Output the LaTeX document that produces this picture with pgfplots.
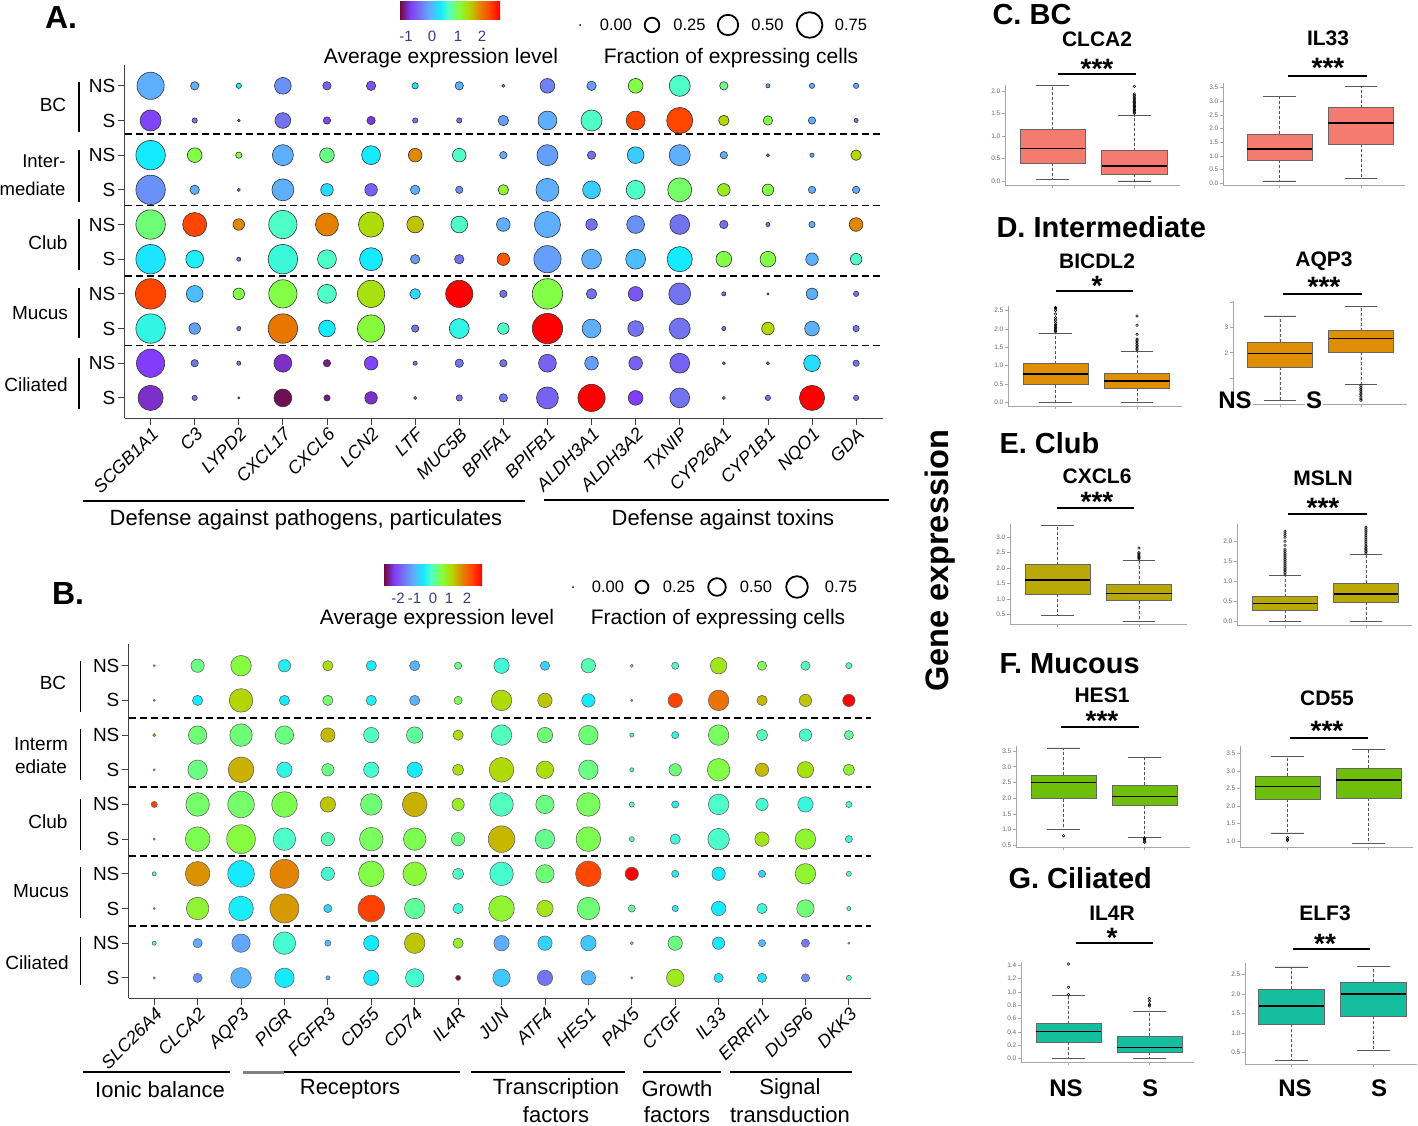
\documentclass[border=0pt]{standalone}
\usepackage{fontspec}
\setmainfont{Liberation Sans}
\usepackage{pgfplots}
\usepackage{pgfplotstable}
\usepgfplotslibrary{statistics}
\pgfplotsset{compat=1.18}
\newcommand\fs[1]{\fontsize{#1}{#1}\selectfont}
\definecolor{cbC}{RGB}{245,122,112}
\definecolor{cbD}{RGB}{222,143,5}
\definecolor{cbE}{RGB}{185,168,8}
\definecolor{cbF}{RGB}{112,190,12}
\definecolor{cbG}{RGB}{22,190,160}
\definecolor{tickc}{RGB}{60,60,130}
\tikzset{dashl/.style={black, line width=1.8pt, dash pattern=on 7pt off 4pt}}
\pgfdeclarehorizontalshading{dotshade}{100bp}{rgb(0bp)=(0.431,0.039,0.235); rgb(25bp)=(0.431,0.039,0.235); rgb(30.2bp)=(0.51,0.235,0.98); rgb(34.75bp)=(0.451,0.451,0.941); rgb(39.95bp)=(0.373,0.686,1); rgb(45.15bp)=(0.078,0.922,1); rgb(49.05bp)=(0.314,1,0.784); rgb(54.2bp)=(0.51,1,0.275); rgb(59.4bp)=(0.706,0.843,0); rgb(64.6bp)=(0.882,0.529,0); rgb(69.8bp)=(1,0.275,0); rgb(75bp)=(1,0,0); rgb(100bp)=(1,0,0)}
\pgfplotsset{colormap={dotmap}{rgb255(0pt)=(110,10,60); rgb255(8pt)=(130,60,250); rgb255(15pt)=(115,115,240); rgb255(23pt)=(95,175,255); rgb255(31pt)=(20,235,255); rgb255(37pt)=(80,255,200); rgb255(45pt)=(130,255,70); rgb255(53pt)=(180,215,0); rgb255(61pt)=(225,135,0); rgb255(69pt)=(255,70,0); rgb255(77pt)=(255,0,0)}}
\pgfplotsset{
 boxplot/draw/lower whisker/.code={%
  \draw[gray!70!black, densely dashed, line width=0.5pt] (boxplot box cs:\pgfplotsboxplotvalue{lower quartile},0.5) -- (boxplot box cs:\pgfplotsboxplotvalue{lower whisker},0.5);
  \draw[gray!70!black, solid, line width=0.8pt] (boxplot whisker cs:\pgfplotsboxplotvalue{lower whisker},0) -- (boxplot whisker cs:\pgfplotsboxplotvalue{lower whisker},1);},
 boxplot/draw/upper whisker/.code={%
  \draw[gray!70!black, densely dashed, line width=0.5pt] (boxplot box cs:\pgfplotsboxplotvalue{upper quartile},0.5) -- (boxplot box cs:\pgfplotsboxplotvalue{upper whisker},0.5);
  \draw[gray!70!black, solid, line width=0.8pt] (boxplot whisker cs:\pgfplotsboxplotvalue{upper whisker},0) -- (boxplot whisker cs:\pgfplotsboxplotvalue{upper whisker},1);},
 bp/.style={scale only axis, anchor=north west, axis x line*=bottom, axis y line*=left,
  axis line style={gray!70, line width=0.7pt}, tick style={gray!70, line width=0.6pt},
  tick align=outside, major tick length=3pt, xtick={1,2}, xticklabels={,},
  yticklabel style={font=\fs{6.5}, text=black!60, inner sep=1.5pt},
  /pgf/number format/assume math mode=true, /pgf/number format/fixed,
  /pgf/number format/fixed zerofill, /pgf/number format/precision=1,
  clip=false, boxplot/draw direction=y, boxplot/box extend=0.8, boxplot/whisker extend=0.4},
 bx/.style={solid, draw=gray!80!black, fill=#1, line width=0.6pt, mark=o, mark size=1.3pt,
  mark options={black, fill=none, line width=0.5pt},
  boxplot/every median/.style={black, line width=1.4pt}},
 dotax/.style={scale only axis, anchor=south west, axis x line*=bottom, axis y line*=left,
  axis line style={black!75, line width=1pt}, tick align=outside, major tick length=7pt,
  tick style={black!75, line width=0.8pt}, xtick={1,...,17}, ytick={1,...,10},
  yticklabels={S,NS,S,NS,S,NS,S,NS,S,NS}, yticklabel style={font=\fs{19}, inner sep=2pt},
  xticklabel style={font=\itshape\fs{18}, rotate=45, anchor=north east, inner sep=1pt},
  colormap name=dotmap, clip=false},
}
\newcommand\bb[7]{\addplot[bx=#7, boxplot prepared={draw position=#1, lower whisker=#2, lower quartile=#3, median=#4, upper quartile=#5, upper whisker=#6}] coordinates {};}
\newcommand\bbo[8]{\addplot[bx=#7, boxplot prepared={draw position=#1, lower whisker=#2, lower quartile=#3, median=#4, upper quartile=#5, upper whisker=#6}] table[row sep=\\, y index=0] {data\\ #8};}

\pgfplotstableread{
x y f v
1 10 0.77 -0.1
2 10 0.073 -0.1
3 10 0.029 0.3
4 10 0.29 -0.3
5 10 0.073 -0.6
6 10 0.092 -0.7
7 10 0.041 0.3
8 10 0.073 -0.1
9 10 0.01 -0.5
10 10 0.224 -0.4
11 10 0.092 -0.2
12 10 0.224 1.0
13 10 0.46 0.6
14 10 0.073 0.8
15 10 0.018 -0.1
16 10 0.029 -0.1
17 10 0.029 -0.1
1 9 0.46 -0.8
2 9 0.029 -0.5
3 9 0.007 -0.5
4 9 0.257 -0.5
5 9 0.056 -0.8
6 9 0.073 -0.9
7 9 0.029 -0.5
8 9 0.029 -0.5
9 9 0.114 -0.2
10 9 0.37 -0.1
11 9 0.46 0.6
12 9 0.37 2.2
13 9 0.71 2.2
14 9 0.114 1.4
15 9 0.092 1.0
16 9 0.056 -0.1
17 9 0.018 -0.5
1 8 0.9 0.3
2 8 0.224 1.0
3 8 0.041 1.0
4 8 0.46 -0.1
5 8 0.224 0.8
6 8 0.37 0.3
7 8 0.193 1.8
8 8 0.193 0.6
9 8 0.056 -0.1
10 8 0.46 -0.2
11 8 0.073 -0.5
12 8 0.29 0.1
13 8 0.46 -0.1
14 8 0.056 -0.1
15 8 0.01 -0.5
16 8 0.018 -0.1
17 8 0.114 1.4
1 7 0.9 -0.3
2 7 0.092 -0.1
3 7 0.01 -0.5
4 7 0.5 -0.1
5 7 0.164 0.2
6 7 0.164 -0.6
7 7 0.092 -0.1
8 7 0.056 -0.3
9 7 0.114 1.1
10 7 0.55 -0.1
11 7 0.33 0.1
12 7 0.37 0.6
13 7 0.6 0.9
14 7 0.164 1.2
15 7 0.138 1.0
16 7 0.056 -0.1
17 7 0.056 -0.1
1 6 0.9 0.85
2 6 0.6 2.2
3 6 0.138 1.8
4 6 0.83 0.6
5 6 0.55 1.85
6 6 0.66 1.35
7 6 0.29 1.5
8 6 0.29 0.6
9 6 0.193 -0.1
10 6 0.71 -0.1
11 6 0.138 -0.5
12 6 0.33 -0.3
13 6 0.41 -0.5
14 6 0.073 -0.5
15 6 0.018 -0.5
16 6 0.041 -0.1
17 6 0.193 1.8
1 5 0.9 0.25
2 5 0.33 0.35
3 5 0.018 -0.5
4 5 0.9 0.5
5 5 0.37 0.6
6 5 0.55 0.3
7 5 0.092 -0.2
8 5 0.092 -0.5
9 5 0.164 2.1
10 5 0.77 -0.2
11 5 0.41 -0.1
12 5 0.41 0.0
13 5 0.66 0.3
14 5 0.257 1.0
15 5 0.257 1.0
16 5 0.164 -0.1
17 5 0.138 0.6
1 4 0.96 2.2
2 4 0.29 0.0
3 4 0.138 1.0
4 4 0.83 1.0
5 4 0.37 0.6
6 4 0.77 1.3
7 4 0.114 0.2
8 4 0.77 2.6
9 4 0.056 -0.5
10 4 0.96 1.0
11 4 0.114 -0.5
12 4 0.224 -0.7
13 4 0.5 -0.5
14 4 0.018 -0.5
15 4 0.005 -0.5
16 4 0.138 -0.1
17 4 0.029 -0.5
1 3 0.9 0.45
2 3 0.138 -0.2
3 3 0.018 -0.5
4 3 0.9 1.9
5 3 0.29 0.3
6 3 0.77 1.05
7 3 0.056 -0.5
8 3 0.41 0.45
9 3 0.138 0.6
10 3 0.96 2.6
11 3 0.37 -0.1
12 3 0.257 -0.5
13 3 0.46 -0.5
14 3 0.018 -0.5
15 3 0.164 1.4
16 3 0.224 -0.1
17 3 0.041 -0.5
1 2 0.83 -0.85
2 2 0.056 -0.5
3 2 0.018 -0.5
4 2 0.33 -0.95
5 2 0.056 -1.1
6 2 0.193 -0.8
7 2 0.018 -0.5
8 2 0.073 -0.5
9 2 0.056 -0.5
10 2 0.33 -0.6
11 2 0.193 -0.2
12 2 0.193 -0.6
13 2 0.41 -0.6
14 2 0.01 -0.5
15 2 0.01 -0.5
16 2 0.29 0.2
17 2 0.041 -0.5
1 1 0.66 -0.95
2 1 0.029 -0.5
3 1 0.005 -0.5
4 1 0.33 -1.2
5 1 0.041 -1.1
6 1 0.164 -0.95
7 1 0.01 -0.5
8 1 0.041 -0.5
9 1 0.073 -0.5
10 1 0.5 -0.6
11 1 0.77 2.6
12 1 0.224 -0.85
13 1 0.41 -0.5
14 1 0.01 -0.5
15 1 0.029 -0.5
16 1 0.66 2.6
17 1 0.029 -0.5
}\dataA

\pgfplotstableread{
x y f v
1 10 0.005 0.0
2 10 0.21 0.3
3 10 0.5 0.6
4 10 0.18 -0.3
5 10 0.125 1.0
6 10 0.125 -0.35
7 10 0.125 -0.9
8 10 0.061 0.3
9 10 0.28 -0.1
10 10 0.1 -0.6
11 10 0.245 0.1
12 10 0.011 0.0
13 10 0.061 0.0
14 10 0.32 0.9
15 10 0.1 0.5
16 10 0.1 0.05
17 10 0.045 0.1
1 9 0.005 0.0
2 9 0.125 -0.4
3 9 0.66 1.1
4 9 0.125 -0.4
5 9 0.125 0.4
6 9 0.125 -0.3
7 9 0.125 -0.9
8 9 0.08 0.5
9 9 0.5 1.05
10 9 0.245 1.2
11 9 0.21 -0.4
12 9 0.005 0.0
13 9 0.245 2.2
14 9 0.5 1.8
15 9 0.125 1.3
16 9 0.18 1.2
17 9 0.18 2.7
1 8 0.011 1.2
2 8 0.4 0.35
3 8 0.6 0.35
4 8 0.4 0.3
5 8 0.245 1.3
6 8 0.28 0.05
7 8 0.32 0.2
8 8 0.125 1.0
9 8 0.5 0.05
10 8 0.28 0.35
11 8 0.45 0.35
12 8 0.02 0.0
13 8 0.061 -0.2
14 8 0.5 0.45
15 8 0.15 0.1
16 8 0.18 0.0
17 8 0.1 0.2
1 7 0.005 0.0
2 7 0.45 0.3
3 7 0.78 1.35
4 7 0.28 -0.2
5 7 0.18 0.3
6 7 0.28 -0.05
7 7 0.28 -0.4
8 7 0.15 0.95
9 7 0.72 1.05
10 7 0.36 1.0
11 7 0.45 0.3
12 7 0.02 0.0
13 7 0.18 0.35
14 7 0.6 0.55
15 7 0.21 1.3
16 7 0.32 0.95
17 7 0.15 0.7
1 6 0.045 2.2
2 6 0.66 0.4
3 6 0.84 0.4
4 6 0.78 0.5
5 6 0.28 1.2
6 6 0.55 0.35
7 6 0.72 1.35
8 6 0.18 0.8
9 6 0.66 0.05
10 6 0.4 0.3
11 6 0.66 0.45
12 6 0.031 0.0
13 6 0.061 -0.3
14 6 0.5 0.0
15 6 0.18 -0.05
16 6 0.28 -0.15
17 6 0.045 0.0
1 5 0.005 0.0
2 5 0.72 0.5
3 5 0.98 0.6
4 5 0.6 0.0
5 5 0.21 0.1
6 5 0.66 0.45
7 5 0.6 0.5
8 5 0.21 0.3
9 5 0.84 1.3
10 5 0.45 0.25
11 5 0.72 0.5
12 5 0.031 0.0
13 5 0.125 -0.1
14 5 0.55 0.0
15 5 0.245 0.9
16 5 0.5 0.7
17 5 0.061 -0.1
1 4 0.02 0.0
2 4 0.72 1.55
3 4 0.84 -0.4
4 4 1.0 1.65
5 4 0.21 -0.05
6 4 0.78 0.55
7 4 0.66 0.65
8 4 0.15 0.0
9 4 0.66 -0.05
10 4 0.4 0.35
11 4 0.78 2.15
12 4 0.21 2.7
13 4 0.061 -0.3
14 4 0.21 -0.4
15 4 0.061 -0.6
16 4 0.5 0.7
17 4 0.031 0.0
1 3 0.005 0.0
2 3 0.6 0.7
3 3 0.72 -0.35
4 3 1.0 1.5
5 3 0.08 -0.6
6 3 0.84 2.2
7 3 0.5 0.2
8 3 0.125 -0.1
9 3 0.78 0.7
10 3 0.32 0.9
11 3 0.6 0.35
12 3 0.061 0.2
13 3 0.045 -0.3
14 3 0.245 -0.4
15 3 0.125 -0.1
16 3 0.36 0.35
17 3 0.02 0.0
1 2 0.02 0.0
2 2 0.1 -0.95
3 2 0.4 -1.0
4 2 0.6 -0.05
5 2 0.045 -0.8
6 2 0.28 -0.4
7 2 0.5 1.2
8 2 0.125 0.75
9 2 0.28 -0.95
10 2 0.245 -0.6
11 2 0.28 -0.7
12 2 0.011 0.0
13 2 0.245 0.3
14 2 0.18 -0.4
15 2 0.061 -0.8
16 2 0.08 -1.4
17 2 0.005 0.0
1 1 0.005 0.0
2 1 0.1 -1.2
3 1 0.5 -0.9
4 1 0.45 -0.4
5 1 0.02 -0.9
6 1 0.28 -0.4
7 1 0.4 -0.05
8 1 0.031 -2.47
9 1 0.36 -0.7
10 1 0.28 -1.45
11 1 0.245 -0.85
12 1 0.005 0.0
13 1 0.36 0.85
14 1 0.1 -0.4
15 1 0.1 -0.45
16 1 0.08 -1.2
17 1 0.031 0.0
}\dataB

\begin{document}
\begin{tikzpicture}
\path[use as bounding box] (0,0) rectangle (1418pt,-1125pt);

% ================= Panel A =================
\begin{axis}[dotax, at={(124.5pt,-418pt)}, width=758.5pt, height=353pt,
  xmin=0.408, xmax=17.61, ymin=0.42, ymax=10.6,
  point meta min=-1.25, point meta max=2.6,
  xticklabels={SCGB1A1,C3,LYPD2,CXCL17,CXCL6,LCN2,LTF,MUC5B,BPIFA1,BPIFB1,ALDH3A1,ALDH3A2,TXNIP,CYP26A1,CYP1B1,NQO1,GDA}]
\addplot[scatter, only marks, mark=*, scatter src=explicit,
  visualization depends on={15.5*sqrt(\thisrow{f}) \as \msz},
  scatter/use mapped color={draw=black!80, fill=mapped color, line width=0.6pt},
  scatter/@pre marker code/.append style={/tikz/mark size=\msz}]
  table[x=x, y=y, meta=v] {\dataA};
\draw[dashl] (axis cs:0.408,8.62) -- (axis cs:17.61,8.62);
\draw[dashl] (axis cs:0.408,6.55) -- (axis cs:17.61,6.55);
\draw[dashl] (axis cs:0.408,4.52) -- (axis cs:17.61,4.52);
\draw[dashl] (axis cs:0.408,2.51) -- (axis cs:17.61,2.51);
\end{axis}

\node[font=\bfseries\fs{32}] at (61pt,-17pt) {A.};
\shade[shading=dotshade] (400pt,-1pt) rectangle (500pt,-19pt);
\begin{scope}[every node/.style={font=\fs{15}, text=tickc}]
\node at (406pt,-36pt) {-1};
\node at (432pt,-36pt) {0};
\node at (458pt,-36pt) {1};
\node at (482pt,-36pt) {2};
\end{scope}
\node[font=\fs{21}] at (441pt,-58pt) {Average expression level};
\node[font=\fs{21}] at (731pt,-58pt) {Fraction of expressing cells};
\fill (580pt,-25pt) circle (1pt);
\draw[line width=1.8pt] (652pt,-25pt) circle (7.3pt);
\draw[line width=1.8pt] (728pt,-25pt) circle (10.2pt);
\draw[line width=1.8pt] (809.6pt,-25pt) circle (12.8pt);
\node[font=\fs{16.5}] at (616pt,-25pt) {0.00};
\node[font=\fs{16.5}] at (689.5pt,-25pt) {0.25};
\node[font=\fs{16.5}] at (767.5pt,-25pt) {0.50};
\node[font=\fs{16.5}] at (851pt,-25pt) {0.75};
% group labels A
\begin{scope}[every node/.style={font=\fs{19}}]
\node at (53pt,-105pt) {BC};
\node[anchor=east, font=\fs{18.5}] at (69pt,-161pt) {Inter-};
\node[anchor=east, font=\fs{18.5}] at (69pt,-189pt) {mediate};
\node at (48pt,-243pt) {Club};
\node at (40pt,-313pt) {Mucus};
\node at (36pt,-385pt) {Ciliated};
\end{scope}
\foreach \a/\b in {82/132,150/202,219/270,288/338,358/409}{
  \draw[line width=1.6pt] (79pt,-\a pt) -- (79pt,-\b pt);}
\draw[line width=1.8pt] (83pt,-501pt) -- (525pt,-501pt);
\draw[line width=1.8pt] (544pt,-500pt) -- (889pt,-500pt);
\node[font=\fs{22}] at (306pt,-520pt) {Defense against pathogens, particulates};
\node[font=\fs{22}] at (723pt,-520pt) {Defense against toxins};

% ================= Panel B =================
\begin{axis}[dotax, at={(128.6pt,-998.3pt)}, width=742.4pt, height=354.3pt,
  xmin=0.41, xmax=17.51, ymin=0.41, ymax=10.626,
  point meta min=-2.47, point meta max=2.7,
  xticklabels={SLC26A4,CLCA2,AQP3,PIGR,FGFR3,CD55,CD74,IL4R,JUN,ATF4,HES1,PAX5,CTGF,IL33,ERRFI1,DUSP6,DKK3}]
\addplot[scatter, only marks, mark=*, scatter src=explicit,
  visualization depends on={14.5*sqrt(\thisrow{f}) \as \msz},
  scatter/use mapped color={draw=black!60, fill=mapped color, line width=0.6pt},
  scatter/@pre marker code/.append style={/tikz/mark size=\msz}]
  table[x=x, y=y, meta=v] {\dataB};
\draw[dashl] (axis cs:0.41,8.5) -- (axis cs:17.51,8.5);
\draw[dashl] (axis cs:0.41,6.51) -- (axis cs:17.51,6.51);
\draw[dashl] (axis cs:0.41,4.51) -- (axis cs:17.51,4.51);
\draw[dashl] (axis cs:0.41,2.5) -- (axis cs:17.51,2.5);
\end{axis}

\node[font=\bfseries\fs{32}] at (68pt,-593pt) {B.};
\shade[shading=dotshade] (384pt,-564.6pt) rectangle (482pt,-585.8pt);
\begin{scope}[every node/.style={font=\fs{15}, text=tickc}]
\node at (398pt,-598pt) {-2};
\node at (414.6pt,-598pt) {-1};
\node at (433pt,-598pt) {0};
\node at (449pt,-598pt) {1};
\node at (467pt,-598pt) {2};
\end{scope}
\node[font=\fs{21}] at (437pt,-619pt) {Average expression level};
\node[font=\fs{21}] at (718pt,-619pt) {Fraction of expressing cells};
\fill (573pt,-587pt) circle (1pt);
\draw[line width=1.8pt] (642pt,-587pt) circle (6.4pt);
\draw[line width=1.8pt] (717pt,-587pt) circle (8.8pt);
\draw[line width=1.8pt] (797pt,-587pt) circle (10.8pt);
\node[font=\fs{16.5}] at (608pt,-587pt) {0.00};
\node[font=\fs{16.5}] at (679pt,-587pt) {0.25};
\node[font=\fs{16.5}] at (756pt,-587pt) {0.50};
\node[font=\fs{16.5}] at (841pt,-587pt) {0.75};
\begin{scope}[every node/.style={font=\fs{19}}]
\node at (53pt,-683pt) {BC};
\node at (41pt,-744pt) {Interm};
\node at (41pt,-767pt) {ediate};
\node at (48pt,-822pt) {Club};
\node at (41pt,-891pt) {Mucus};
\node at (37pt,-963pt) {Ciliated};
\end{scope}
\foreach \a/\b in {661/712,729/780,799/850,867/918,937/985}{
  \draw[line width=1.6pt] (80.5pt,-\a pt) -- (80.5pt,-\b pt);}
\draw[line width=1.8pt] (83pt,-1072pt) -- (230pt,-1072pt);
\draw[line width=1.8pt] (243pt,-1072pt) -- (459.5pt,-1072pt);
\draw[line width=3pt, gray] (243pt,-1072pt) -- (284pt,-1072pt);
\draw[line width=1.8pt] (471pt,-1072pt) -- (625pt,-1072pt);
\draw[line width=1.8pt] (643pt,-1072pt) -- (721pt,-1072pt);
\draw[line width=1.8pt] (730pt,-1072pt) -- (852pt,-1072pt);
\begin{scope}[every node/.style={font=\fs{22}}]
\node at (160pt,-1090pt) {Ionic balance};
\node at (350pt,-1089pt) {Receptors};
\node at (556pt,-1089pt) {Transcription};
\node at (556pt,-1115pt) {factors};
\node at (677pt,-1089pt) {Growth};
\node at (677pt,-1115pt) {factors};
\node at (790pt,-1089pt) {Signal};
\node at (790pt,-1115pt) {transduction};
\end{scope}

% ================= Gene expression label =================
\node[font=\bfseries\fs{32.5}, rotate=90] at (940pt,-561pt) {Gene expression};

% ================= Box plots =================
% C
\node[font=\bfseries\fs{29}, anchor=west] at (989pt,-15pt) {C. BC};
\begin{axis}[bp, at={(1005pt,-85pt)}, width=175pt, height=100pt, xmin=0.415, xmax=2.56, ymin=-0.09, ymax=2.13, ytick={0,0.5,...,2}]
\bb{1}{0.03}{0.39}{0.72}{1.14}{2.12}{cbC}
\bbo{2}{0.0}{0.15}{0.33}{0.67}{1.45}{cbC}{1.5\\1.53\\1.56\\1.59\\1.62\\1.65\\1.68\\1.71\\1.74\\1.77\\1.8\\1.83\\1.86\\1.9\\1.93\\2.1\\}
\end{axis}
\begin{axis}[bp, at={(1223pt,-83pt)}, width=182pt, height=102pt, xmin=0.307, xmax=2.54, ymin=-0.07, ymax=3.67, ytick={0,0.5,...,3.5}]
\bb{1}{0.08}{0.83}{1.25}{1.8}{3.17}{cbC}
\bb{2}{0.18}{1.43}{2.2}{2.77}{3.55}{cbC}
\end{axis}
% D
\node[font=\bfseries\fs{29}, anchor=west] at (993pt,-227pt) {D. Intermediate};
\begin{axis}[bp, at={(1008pt,-306pt)}, width=174pt, height=100pt, xmin=0.417, xmax=2.552, ymin=-0.1, ymax=2.62, ytick={0,0.5,...,2.5}]
\bbo{1}{0.0}{0.48}{0.77}{1.05}{1.88}{cbD}{1.92\\1.96\\2.0\\2.04\\2.08\\2.12\\2.18\\2.24\\2.3\\2.4\\2.5\\2.55\\2.58\\}
\bbo{2}{0.0}{0.38}{0.58}{0.79}{1.39}{cbD}{1.43\\1.47\\1.51\\1.55\\1.6\\1.64\\1.68\\1.72\\1.85\\2.1\\2.35\\}
\end{axis}
\begin{axis}[bp, at={(1233pt,-301pt)}, width=174pt, height=103pt, xmin=0.42, xmax=2.57, ymin=-0.03, ymax=4.05, ytick={1,2,3,4}, yticklabels={,2,3,}]
\bb{1}{0.1}{1.43}{1.98}{2.43}{3.46}{cbD}
\bbo{2}{0.75}{2.02}{2.57}{2.87}{3.85}{cbD}{0.7\\0.62\\0.55\\0.48\\0.4\\0.33\\0.25\\0.17\\0.12\\}
\end{axis}
% E
\node[font=\bfseries\fs{29}, anchor=west] at (996pt,-443pt) {E. Club};
\begin{axis}[bp, at={(1010pt,-524pt)}, width=177pt, height=100pt, xmin=0.417, xmax=2.59, ymin=0.185, ymax=3.43, ytick={0.5,1,...,3}]
\bb{1}{0.45}{1.15}{1.61}{2.11}{3.37}{cbE}
\bbo{2}{0.28}{0.94}{1.18}{1.47}{2.26}{cbE}{2.3\\2.34\\2.38\\2.42\\2.46\\2.5\\2.65\\}
\end{axis}
\begin{axis}[bp, at={(1237pt,-524pt)}, width=175pt, height=101pt, xmin=0.407, xmax=2.57, ymin=-0.1, ymax=2.43, ytick={0,0.5,...,2}]
\bbo{1}{0.0}{0.28}{0.44}{0.61}{1.15}{cbE}{1.18\\1.22\\1.26\\1.3\\1.35\\1.4\\1.45\\1.5\\1.55\\1.6\\1.65\\1.7\\1.75\\1.8\\1.9\\2.0\\2.1\\2.15\\2.2\\2.25\\}
\bbo{2}{0.0}{0.48}{0.68}{0.95}{1.67}{cbE}{1.7\\1.74\\1.78\\1.82\\1.86\\1.9\\1.95\\2.0\\2.05\\2.1\\2.15\\2.2\\2.25\\2.3\\2.35\\}
\end{axis}
% F
\node[font=\bfseries\fs{29}, anchor=west] at (996pt,-664pt) {F. Mucous};
\begin{axis}[bp, at={(1016pt,-746pt)}, width=174pt, height=101pt, xmin=0.414, xmax=2.56, ymin=0.45, ymax=3.66, ytick={0.5,1,...,3.5}]
\bbo{1}{1.0}{1.99}{2.5}{2.73}{3.6}{cbF}{0.81\\}
\bbo{2}{0.75}{1.76}{2.05}{2.41}{3.3}{cbF}{0.72\\0.68\\0.64\\0.6\\}
\end{axis}
\begin{axis}[bp, at={(1240pt,-746pt)}, width=173pt, height=101pt, xmin=0.414, xmax=2.55, ymin=0.83, ymax=3.71, ytick={1,1.5,...,3.5}]
\bbo{1}{1.23}{2.19}{2.55}{2.86}{3.42}{cbF}{1.1\\1.05\\1.02\\}
\bb{2}{0.94}{2.22}{2.74}{3.07}{3.62}{cbF}
\end{axis}
% G
\node[font=\bfseries\fs{29}, anchor=west] at (1005pt,-878pt) {G. Ciliated};
\begin{axis}[bp, at={(1021pt,-962pt)}, width=173pt, height=100pt, xmin=0.414, xmax=2.55, ymin=-0.054, ymax=1.45, ytick={0,0.2,...,1.4}]
\bbo{1}{0.0}{0.245}{0.405}{0.525}{0.95}{cbG}{0.96\\1.07\\1.42\\}
\bbo{2}{0.0}{0.09}{0.165}{0.33}{0.705}{cbG}{0.79\\0.81\\0.86\\0.9\\}
\end{axis}
\begin{axis}[bp, at={(1245pt,-963pt)}, width=172pt, height=101pt, xmin=0.433, xmax=2.53, ymin=0.2, ymax=2.8, ytick={0.5,1,...,2.5}]
\bb{1}{0.29}{1.22}{1.69}{2.12}{2.7}{cbG}
\bb{2}{0.54}{1.43}{2.0}{2.31}{2.72}{cbG}
\end{axis}

% titles, stars, lines
\begin{scope}[every node/.style={font=\bfseries\fs{21}}]
\node at (1097pt,-39pt) {CLCA2};
\node at (1328pt,-38pt) {IL33};
\node at (1097pt,-261pt) {BICDL2};
\node at (1324pt,-261pt) {AQP3};
\node at (1097pt,-476pt) {CXCL6};
\node at (1323pt,-478pt) {MSLN};
\node at (1102pt,-695pt) {HES1};
\node at (1327pt,-698pt) {CD55};
\node at (1112pt,-913pt) {IL4R};
\node at (1325pt,-913pt) {ELF3};
\end{scope}
\begin{scope}[every node/.style={font=\bfseries\fs{28}, anchor=base, inner sep=0pt}]
\node at (1097pt,-78pt) {***};
\node at (1328pt,-77pt) {***};
\node at (1097pt,-295pt) {*};
\node at (1324pt,-296pt) {***};
\node at (1097pt,-511pt) {***};
\node at (1323pt,-517pt) {***};
\node at (1102pt,-730pt) {***};
\node at (1327pt,-740pt) {***};
\node at (1112pt,-947pt) {*};
\node at (1325pt,-953pt) {**};
\end{scope}
\foreach \yy/\a/\b in {74/1058/1136,76/1288/1367,291/1056/1133,294/1283/1362,508/1057/1134,514/1288/1367,727/1061/1139,738/1290/1368,943/1076/1153,949/1293/1370}{
  \draw[line width=1.4pt] (\a pt,-\yy pt) -- (\b pt,-\yy pt);}
\begin{scope}[every node/.style={font=\bfseries\fs{24}, fill=white, inner sep=1pt}]
\node at (1235pt,-400pt) {NS};
\node at (1314pt,-400pt) {S};
\node at (1066pt,-1088pt) {NS};
\node at (1150pt,-1088pt) {S};
\node at (1295pt,-1088pt) {NS};
\node at (1379pt,-1088pt) {S};
\end{scope}
\end{tikzpicture}
\end{document}
